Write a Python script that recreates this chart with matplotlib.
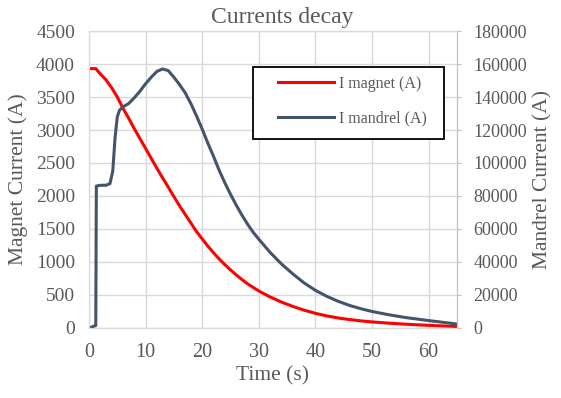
import matplotlib
matplotlib.use('Agg')
import matplotlib.pyplot as plt
from matplotlib.patches import Rectangle

plt.rcParams['font.family'] = ['Liberation Serif', 'DejaVu Serif']

# time (s) and magnet current (A)
t_magnet = [0, 1.2, 2, 3, 4, 5, 6, 7, 8, 9, 10, 11, 12, 13, 14, 15, 16, 17, 18, 19, 20, 21, 22, 23, 24,
            25, 26, 27, 28, 29, 30, 32, 34, 36, 38, 40, 42, 44, 46, 48, 50, 53, 56, 60, 65]
i_magnet = [3930, 3930, 3850, 3760, 3640, 3500, 3330, 3180, 3020, 2870, 2720, 2570, 2420, 2275, 2135,
            1990, 1850, 1720, 1590, 1460, 1350, 1240, 1140, 1045, 960, 880, 805, 735, 670, 615, 560,
            470, 393, 327, 270, 222, 183, 152, 128, 108, 92, 73, 57, 40, 22]

# time (s) and mandrel current (A)
t_mandrel = [0, 1.2, 1.3, 2, 3, 3.7, 4.2, 4.6, 5.0, 5.4, 6, 7, 8, 9, 10, 11, 12, 13, 14, 15, 16, 17, 18,
             19, 20, 21, 22, 23, 24, 25, 26, 27, 28, 29, 30, 32, 34, 36, 38, 40, 42, 44, 46, 48, 50, 53,
             56, 60, 65]
i_mandrel = [0, 1500, 86000, 86500, 86500, 87500, 95000, 115000, 128000, 132000, 134000, 136000, 139500,
             143500, 148000, 152000, 155500, 157000, 156000, 152000, 147500, 142500, 136000, 128500,
             120500, 112000, 104000, 95500, 88000, 81000, 74500, 68500, 63000, 58000, 53800, 45800, 38800,
             32800, 27300, 22800, 19200, 16200, 13700, 11700, 10000, 8000, 6300, 4500, 2400]

grey = '#595959'
grid_c = '#d9d9d9'

fig = plt.figure(figsize=(5.61, 3.98), dpi=100)
ax = fig.add_axes([0.1586, 0.1759, 0.656, 0.7462])
ax2 = ax.twinx()

l1, = ax.plot(t_magnet, i_magnet, color='#ff0000', lw=2.2, label='I magnet (A)')
l2, = ax2.plot(t_mandrel, i_mandrel, color='#44546a', lw=2.2, label='I mandrel (A)')

ax.set_xlim(0, 65)
ax.set_ylim(0, 4500)
ax2.set_ylim(0, 180000)
ax.set_xticks(range(0, 61, 10))
ax.set_yticks(range(0, 4501, 500))
ax2.set_yticks(range(0, 180001, 20000))

ax.grid(True, color=grid_c, lw=1)
ax.set_axisbelow(True)
for a in (ax, ax2):
    for s in a.spines.values():
        s.set_color(grid_c)
ax2.spines['right'].set_color('#bfbfbf')
ax.spines['bottom'].set_color('#d0d0d0')
ax.tick_params(axis='y', length=0, colors=grey, labelsize=14, pad=10)
ax.tick_params(axis='x', length=0, colors=grey, labelsize=14.5, pad=11)
ax2.tick_params(axis='y', length=3, color='#bfbfbf', labelcolor=grey, labelsize=13, pad=9)

ax.set_xlabel('Time (s)', color=grey, fontsize=15.5, labelpad=3)
ax.set_ylabel('Magnet Current (A)', color=grey, fontsize=15.5, labelpad=6)
ax2.set_ylabel('Mandrel Current (A)', color=grey, fontsize=15.5, labelpad=4)
ax.set_title('Currents decay', color=grey, fontsize=17, pad=6, x=0.524)

# legend box drawn separately so the padding can match the reference
box = Rectangle((0.4457, 0.6364), 0.519, 0.2424, transform=ax2.transAxes, facecolor='white',
                edgecolor='black', lw=1.3, zorder=5)
ax2.add_patch(box)
leg = ax2.legend(handles=[l1, l2], loc='center', bbox_to_anchor=(0.716, 0.764), frameon=False,
                 fontsize=11.5, labelspacing=1.15, handlelength=3.5, handletextpad=0.35, borderpad=0)
leg.set_zorder(6)
for txt in leg.get_texts():
    txt.set_color(grey)

fig.savefig('out.png', dpi=100)
